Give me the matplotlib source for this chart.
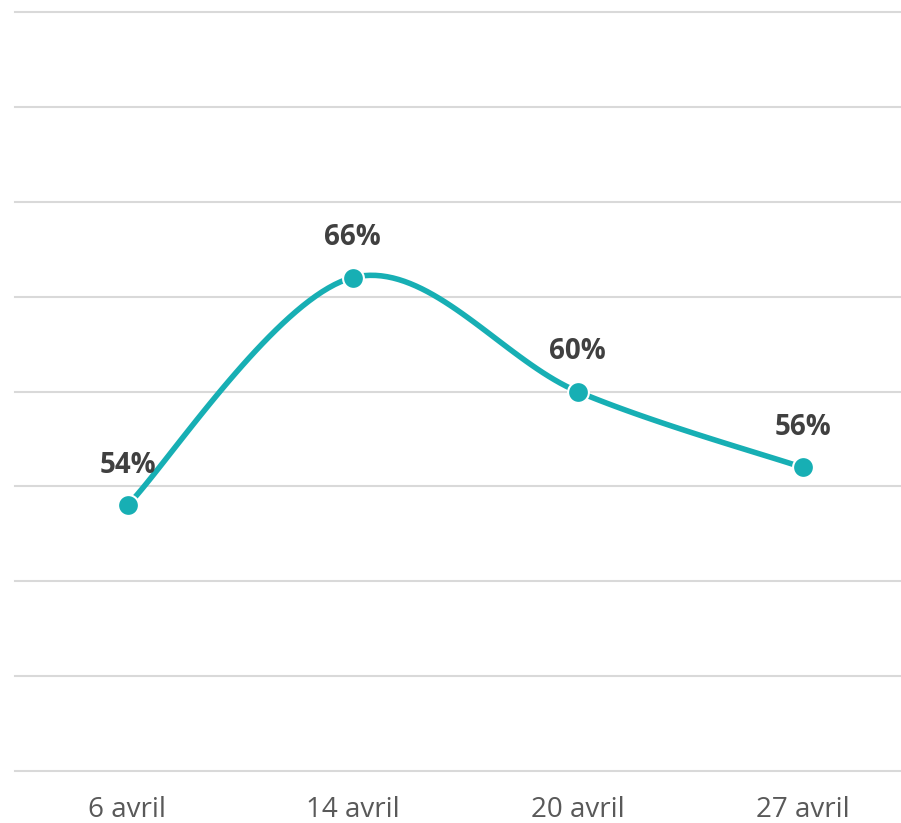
import numpy as np
import matplotlib.pyplot as plt

# Data
dates = ['6 avril', '14 avril', '20 avril', '27 avril']
values = [54, 66, 60, 56]
labels = ['54%', '66%', '60%', '56%']

teal = '#17AFB4'
plt.rcParams['font.family'] = ['Open Sans', 'DejaVu Sans']

fig = plt.figure(figsize=(9.01, 8.23), dpi=100)
# axes box in pixels: left 15, right 915, top 12, bottom 771
ax = fig.add_axes([15 / 901, (823 - 771) / 823, 900 / 901, (771 - 12) / 823])
ax.set_xlim(-0.5, 3.5)
ax.set_ylim(40, 80)


def smooth(xs, ys, n=40):
    """Excel-style smoothed line: cubic Bezier through points."""
    pts = np.column_stack([xs, ys]).astype(float)
    out = []
    for i in range(len(pts) - 1):
        p0 = pts[max(i - 1, 0)]
        p1 = pts[i]
        p2 = pts[i + 1]
        p3 = pts[min(i + 2, len(pts) - 1)]
        c1 = p1 + (p2 - p0) / 6
        c2 = p2 - (p3 - p1) / 6
        t = np.linspace(0, 1, n)[:, None]
        seg = ((1 - t) ** 3) * p1 + 3 * ((1 - t) ** 2) * t * c1 \
            + 3 * (1 - t) * t ** 2 * c2 + t ** 3 * p2
        out.append(seg if i == 0 else seg[1:])
    return np.vstack(out)


x = np.arange(len(dates))
curve = smooth(x, values)

for y in np.arange(40, 81, 5):
    ax.axhline(y, color='#D9D9D9', lw=1.5, zorder=0, clip_on=False)

ax.plot(curve[:, 0], curve[:, 1], color=teal, lw=4, solid_capstyle='round', zorder=2)
ax.plot(x, values, 'o', color=teal, ms=15, mec='white', mew=1.5, zorder=3)

for xi, v, lab in zip(x, values, labels):
    ax.annotate(lab, (xi, v), xytext=(0, 29), textcoords='offset points',
                ha='center', va='center', fontsize=20, fontweight='bold', color='#404040')

ax.set_xticks(x)
ax.set_xticklabels(dates, fontsize=20, color='#595959')
ax.tick_params(axis='x', length=0, pad=18)
ax.set_yticks([])
for s in ax.spines.values():
    s.set_visible(False)

fig.savefig('out.png', dpi=100)
